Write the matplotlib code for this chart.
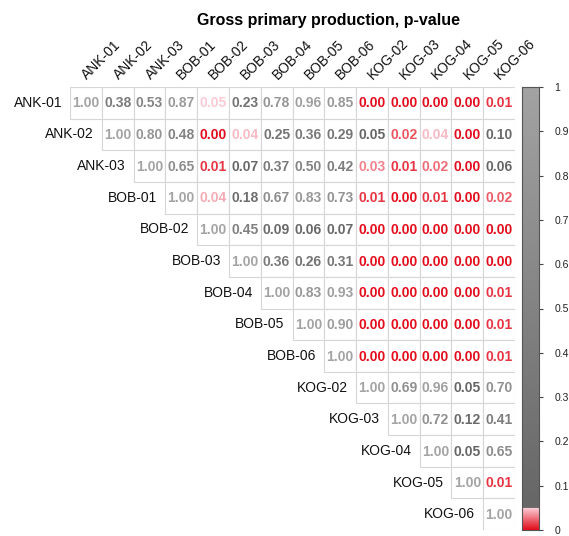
import numpy as np
import matplotlib
matplotlib.use('Agg')
import matplotlib.pyplot as plt
from matplotlib.patches import Rectangle

plt.rcParams['font.family'] = ['Liberation Sans', 'DejaVu Sans']

# Estações (mesma ordem nas linhas e nas colunas)
estacoes = ['ANK-01', 'ANK-02', 'ANK-03', 'BOB-01', 'BOB-02', 'BOB-03',
            'BOB-04', 'BOB-05', 'BOB-06', 'KOG-02', 'KOG-03', 'KOG-04',
            'KOG-05', 'KOG-06']

# p-values do triângulo superior, linha a linha (começa na diagonal)
linha_ank01 = [1.00, 0.38, 0.53, 0.87, 0.048, 0.23, 0.78, 0.96, 0.85, 0.00, 0.00, 0.00, 0.00, 0.01]
linha_ank02 = [1.00, 0.80, 0.48, 0.00, 0.044, 0.25, 0.36, 0.29, 0.05, 0.018, 0.044, 0.00, 0.10]
linha_ank03 = [1.00, 0.65, 0.01, 0.07, 0.37, 0.50, 0.42, 0.03, 0.01, 0.024, 0.00, 0.06]
linha_bob01 = [1.00, 0.04, 0.18, 0.67, 0.83, 0.73, 0.01, 0.00, 0.01, 0.00, 0.02]
linha_bob02 = [1.00, 0.45, 0.09, 0.06, 0.07, 0.00, 0.00, 0.00, 0.00, 0.00]
linha_bob03 = [1.00, 0.36, 0.26, 0.31, 0.00, 0.00, 0.00, 0.00, 0.00]
linha_bob04 = [1.00, 0.83, 0.93, 0.00, 0.00, 0.00, 0.00, 0.01]
linha_bob05 = [1.00, 0.90, 0.00, 0.00, 0.00, 0.00, 0.01]
linha_bob06 = [1.00, 0.00, 0.00, 0.00, 0.00, 0.01]
linha_kog02 = [1.00, 0.69, 0.96, 0.05, 0.70]
linha_kog03 = [1.00, 0.72, 0.12, 0.41]
linha_kog04 = [1.00, 0.05, 0.65]
linha_kog05 = [1.00, 0.01]
linha_kog06 = [1.00]

linhas = [linha_ank01, linha_ank02, linha_ank03, linha_bob01, linha_bob02,
          linha_bob03, linha_bob04, linha_bob05, linha_bob06, linha_kog02,
          linha_kog03, linha_kog04, linha_kog05, linha_kog06]

limite = 0.05
ticks_barra = [0, 0.1, 0.2, 0.3, 0.4, 0.5, 0.6, 0.7, 0.8, 0.9, 1]
rotulos_barra = ['0', '0.1', '0.2', '0.3', '0.4', '0.5', '0.6', '0.7', '0.8', '0.9', '1']


def mistura(c1, c2, t):
    c1 = np.array(matplotlib.colors.to_rgb(c1))
    c2 = np.array(matplotlib.colors.to_rgb(c2))
    return tuple(c1 + (c2 - c1) * t)


def cor(p):
    # abaixo de 0.05: vermelho -> rosa claro; acima: cinzento escuro -> cinzento claro
    if p < limite:
        return mistura('#e20d1c', '#fcd2da', p / limite)
    return mistura('#666666', '#a3a3a3', (p - limite) / (1 - limite))


fig = plt.figure(figsize=(5.69, 5.36), dpi=100)
ax = fig.add_axes([70 / 569, 6 / 536, 445 / 569, 443 / 536])
n = len(estacoes)
ax.set_xlim(0, n)
ax.set_ylim(n, 0)
ax.axis('off')

# Células, números e rótulos
for i, valores in enumerate(linhas):
    for k, p in enumerate(valores):
        j = i + k
        ax.add_patch(Rectangle((j, i), 1, 1, facecolor='white',
                               edgecolor='#d6d6d6', linewidth=0.8))
        ax.text(j + 0.5, i + 0.52, '%.2f' % p, ha='center', va='center',
                fontsize=10, fontweight='bold', color=cor(p))
    ax.text(i - 0.25, i + 0.5, estacoes[i], ha='right', va='center',
            fontsize=10, color='#111111', clip_on=False)

for j, nome in enumerate(estacoes):
    ax.text(j + 0.6, -0.15, nome, ha='left', va='bottom', rotation=45,
            rotation_mode='anchor', fontsize=10, color='#111111', clip_on=False)

fig.text(0.578, 0.962, 'Gross primary production, p-value', ha='center',
         va='center', fontsize=11.5, fontweight='bold')

# Barra de cores
cax = fig.add_axes([522 / 569, 6 / 536, 17 / 569, 443 / 536])
niveis = np.linspace(0, 1, 400)
gradiente = np.array([[cor(v)] for v in niveis])
cax.imshow(gradiente, extent=[0, 1, 0, 1], origin='lower', aspect='auto')
cax.set_xlim(0, 1)
cax.set_ylim(0, 1)
cax.set_xticks([])
cax.yaxis.tick_right()
cax.set_yticks(ticks_barra)
cax.set_yticklabels(rotulos_barra)
cax.tick_params(axis='y', length=3, width=0.8, colors='#444444',
                labelsize=7.5, labelcolor='#222222', pad=8)
for s in cax.spines.values():
    s.set_color('#555555')
    s.set_linewidth(0.8)

fig.savefig('out.png', dpi=100)
